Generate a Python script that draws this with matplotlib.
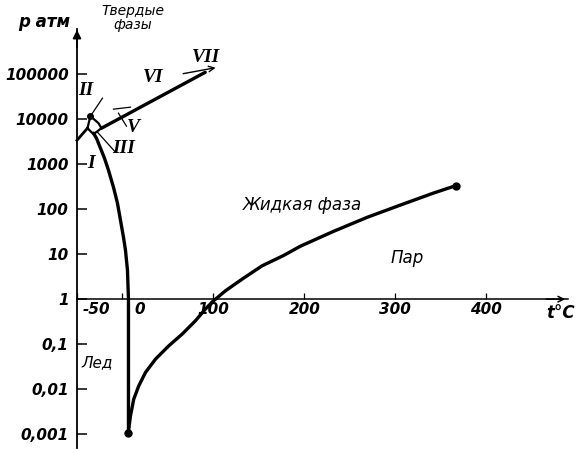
import matplotlib.pyplot as plt
from matplotlib.transforms import ScaledTranslation

# melting curve (ice I / liquid), t in deg C, p in atm
melt_t = [6.6, 6.6, 5.5, 3.3, 1.1, -2.2, -5.5, -9.9, -15.4, -19.8, -24.2, -28.6, -31.9]
melt_p = [0.0011, 1, 4.4, 12.3, 23.9, 57, 136, 308, 736, 1360, 2270, 3780, 4890]

# sublimation + vapour curve up to the critical point
vap_t = [6.3, 8.8, 12.4, 17.9, 25.3, 36.3, 50.9, 65.6, 80.2, 91.2, 99, 113.2, 131.5,
         153.5, 177, 195.6, 231.9, 269.2, 305.5, 341.8, 367]
vap_p = [0.00105, 0.00255, 0.006, 0.0118, 0.0235, 0.0464, 0.0917, 0.167, 0.33, 0.6, 0.88,
         1.53, 2.78, 5.5, 9.3, 15, 32, 66, 123, 227, 335]

# ice I / ice III boundary from the axis
ice13_t = [-50, -38.5]
ice13_p = [3400, 6300]

# small ice III region
box_t = [-38.5, -35.2, -26.4, -23.1, -31.9, -38.5]
box_p = [6300, 11700, 8150, 6300, 4640, 6300]

# ice VI / liquid line
vi_t = [-23.1, 91]
vi_p = [6300, 110000]

x_ticks = [-50, 0, 100, 200, 300, 400]
x_labels = ['-50', '0', '100', '200', '300', '400']
y_ticks = [0.001, 0.01, 0.1, 1, 10, 100, 1000, 10000, 100000]
y_labels = ['0,001', '0,01', '0,1', '1', '10', '100', '1000', '10000', '100000']

fig = plt.figure(figsize=(5.77, 4.49), dpi=100)
ax = fig.add_axes([77 / 577, 0.003, 491 / 577, 0.932])
ax.set_yscale('log')
ax.set_xlim(-50, 490)
ax.set_ylim(10 ** -3.3, 10 ** 6.0)

for s in ['top', 'right']:
    ax.spines[s].set_visible(False)
ax.spines['left'].set_position(('data', -50))
ax.spines['bottom'].set_position(('data', 1))
ax.spines['left'].set_linewidth(1.3)
ax.spines['bottom'].set_linewidth(1.1)

num_font = dict(family='DejaVu Sans', style='italic', weight='bold')
ax.set_yticks(y_ticks, y_labels, fontsize=11, **num_font)
ax.minorticks_off()
ax.tick_params(axis='y', direction='in', length=7, width=1.1, pad=6)
ax.set_xticks(x_ticks, x_labels, fontsize=11, **num_font)
ax.tick_params(axis='x', direction='in', length=4, width=0.9, pad=2)
for lab, dx in zip(ax.get_xticklabels()[:2], [0.19, 0.17]):
    lab.set_transform(lab.get_transform() + ScaledTranslation(dx, 0, fig.dpi_scale_trans))

# axis arrows
ax.annotate('', xy=(1.0, 1), xycoords=ax.get_yaxis_transform(),
            xytext=(0.95, 1), textcoords=ax.get_yaxis_transform(),
            arrowprops=dict(arrowstyle='->', lw=1.1, color='black'))
ax.annotate('', xy=(-50, 1.005), xycoords=ax.get_xaxis_transform(),
            xytext=(-50, 0.95), textcoords=ax.get_xaxis_transform(),
            arrowprops=dict(arrowstyle='-|>', lw=1.3, color='black', mutation_scale=12))

# phase boundaries
ax.plot(melt_t, melt_p, color='black', lw=2.4, solid_capstyle='round')
ax.plot(vap_t, vap_p, color='black', lw=2.4, solid_capstyle='round')
ax.plot(vap_t[-1], vap_p[-1], 'o', color='black', ms=5)
ax.plot(vap_t[0], vap_p[0], 'o', color='black', ms=5)
ax.plot(ice13_t, ice13_p, color='black', lw=2.0, clip_on=False)
ax.plot(box_t, box_p, color='black', lw=1.6)
ax.plot(box_t[1], box_p[1], 'o', color='black', ms=4)
ax.plot(vi_t, vi_p, color='black', lw=2.4, solid_capstyle='round')
ax.annotate('', xy=(105.5, 143000), xytext=(63.7, 100000),
            arrowprops=dict(arrowstyle='->', lw=1.0, color='black'))

# thin leaders
ax.plot([-35.2, -22], [11700, 29300], color='black', lw=0.9)
ax.plot([-27.5, -7.7], [5140, 1850], color='black', lw=0.9)
ax.plot([-9.9, 8.8], [16700, 18500], color='black', lw=0.9)
ax.plot([-4.4, 4.4], [13600, 6990], color='black', lw=0.9)

roman = dict(family='Liberation Serif', style='italic', weight='bold',
             fontsize=14, ha='center', va='center')
ax.text(-40.7, 44000, 'II', **roman)
ax.text(12, 6600, 'V', **roman)
ax.text(1.1, 2270, 'III', **roman)
ax.text(-35, 1050, 'I', **roman)
ax.text(34, 85000, 'VI', **roman)
ax.text(92, 240000, 'VII', **roman)

lab = dict(family='DejaVu Sans', style='italic', ha='center', va='center')
ax.text(198, 123, 'Жидкая фаза', fontsize=12, **lab)
ax.text(313, 8.1, 'Пар', fontsize=12, **lab)
ax.text(-27.5, 0.038, 'Лед', fontsize=11, **lab)
ax.text(11, 10 ** 6.24, 'Твердые\nфазы', fontsize=10, linespacing=1.0, clip_on=False, **lab)
ax.text(-86, 10 ** 6.15, 'p атм', fontsize=12, weight='bold', clip_on=False, **lab)
ax.text(482, 0.49, 't°C', fontsize=12, weight='bold', clip_on=False, **lab)

fig.savefig('out.png', dpi=100)
